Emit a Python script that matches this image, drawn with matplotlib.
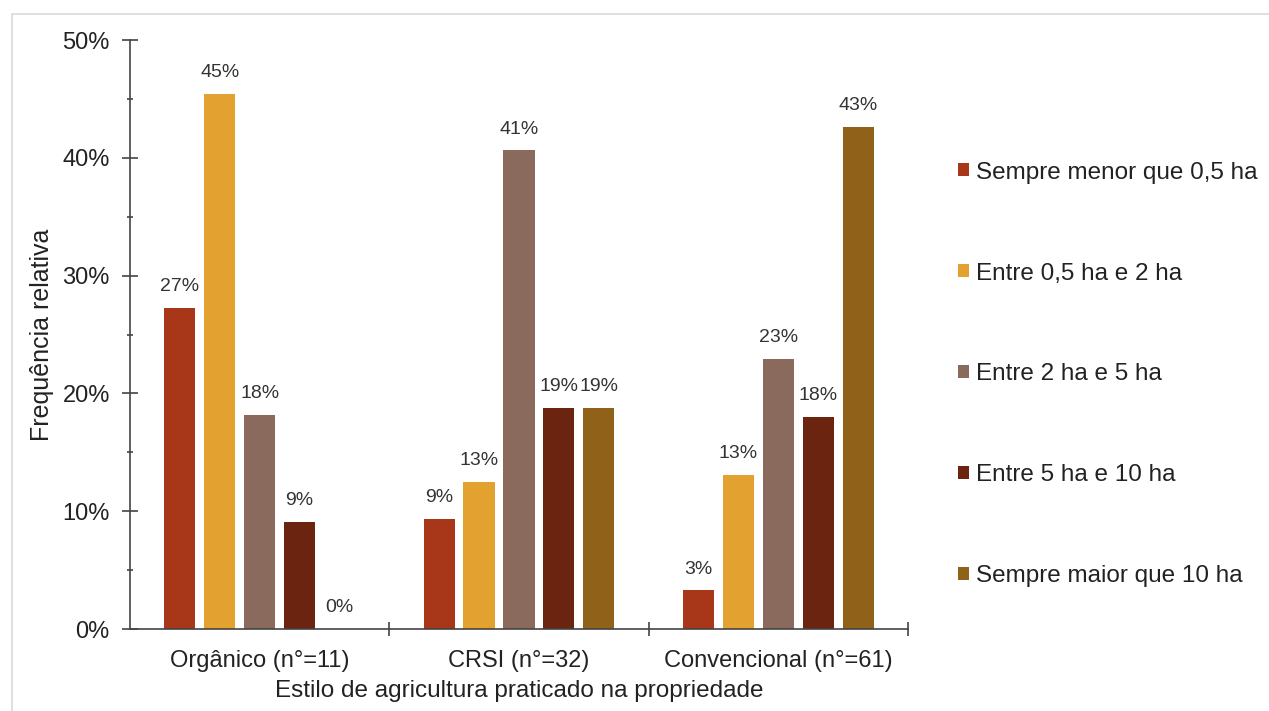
import numpy as np
import matplotlib.pyplot as plt
from matplotlib.patches import Rectangle
from matplotlib.ticker import MultipleLocator, FuncFormatter

plt.rcParams['font.family'] = ['Liberation Sans', 'DejaVu Sans']

estilos = ['Orgânico (n°=11)', 'CRSI (n°=32)', 'Convencional (n°=61)']
classes = ['Sempre menor que 0,5 ha', 'Entre 0,5 ha e 2 ha', 'Entre 2 ha e 5 ha',
           'Entre 5 ha e 10 ha', 'Sempre maior que 10 ha']
cores = ['#A8371A', '#E3A22F', '#8A6A5C', '#6A2410', '#8F6119']

# frequencia relativa (%) por classe de area, uma lista por classe
menor_05 = [27.27, 9.38, 3.28]
entre_05_2 = [45.45, 12.50, 13.11]
entre_2_5 = [18.18, 40.63, 22.95]
entre_5_10 = [9.09, 18.75, 18.03]
maior_10 = [0.00, 18.75, 42.62]
series = [menor_05, entre_05_2, entre_2_5, entre_5_10, maior_10]

fig = plt.figure(figsize=(12.69, 7.11), dpi=100)
ax = fig.add_axes([0.1024, 0.1153, 0.6131, 0.8284])

# moldura cinza em volta do grafico
fig.patches.append(Rectangle((12 / 1269, -0.05), 1.1, 1 - 14 / 711 + 0.05,
                             transform=fig.transFigure, fill=False,
                             edgecolor='#D9D9D9', linewidth=1.2))

x = np.arange(len(estilos))
larg = 0.12
passo = 0.154
for i, (vals, cor, nome) in enumerate(zip(series, cores, classes)):
    pos = x + (i - 2) * passo
    ax.bar(pos, vals, width=larg, color=cor, label=nome, zorder=2)
    for px, v in zip(pos, vals):
        ax.text(px, v + 1.8, '%d%%' % int(v + 0.5), ha='center', va='center',
                fontsize=14, color='#333333')

ax.set_xlim(-0.5, 2.5)
ax.set_ylim(0, 50)
ax.yaxis.set_major_locator(MultipleLocator(10))
ax.yaxis.set_minor_locator(MultipleLocator(5))
ax.yaxis.set_major_formatter(FuncFormatter(lambda v, p: '%d%%' % v))
ax.tick_params(axis='y', which='major', direction='inout', length=11, width=1.2,
               labelsize=17, colors='#444444', labelcolor='#222222', pad=9)
ax.tick_params(axis='y', which='minor', direction='inout', length=5, width=1.2,
               colors='#444444')

ax.set_xticks(x)
ax.set_xticklabels(estilos)
ax.tick_params(axis='x', which='major', length=0, labelsize=17, labelcolor='#222222', pad=15)
ax.set_xticks([0.5, 1.5, 2.5], minor=True)
ax.tick_params(axis='x', which='minor', direction='inout', length=10, width=1.2,
               colors='#444444')

for lado in ['top', 'right']:
    ax.spines[lado].set_visible(False)
for lado in ['left', 'bottom']:
    ax.spines[lado].set_color('#444444')
    ax.spines[lado].set_linewidth(1.2)

ax.set_ylabel('Frequência relativa', fontsize=18, color='#222222', labelpad=6)
ax.set_xlabel('Estilo de agricultura praticado na propriedade', fontsize=17.5,
              color='#222222', labelpad=6)

ax.legend(loc='center left', bbox_to_anchor=(958 / 1269, 1 - 374.5 / 711),
          bbox_transform=fig.transFigure, frameon=False, borderpad=0,
          borderaxespad=0, fontsize=17.5, handlelength=0.45, handleheight=0.45,
          handletextpad=0.3, labelspacing=3.25, labelcolor='#222222')

fig.savefig('out.png', dpi=100, facecolor='white')
